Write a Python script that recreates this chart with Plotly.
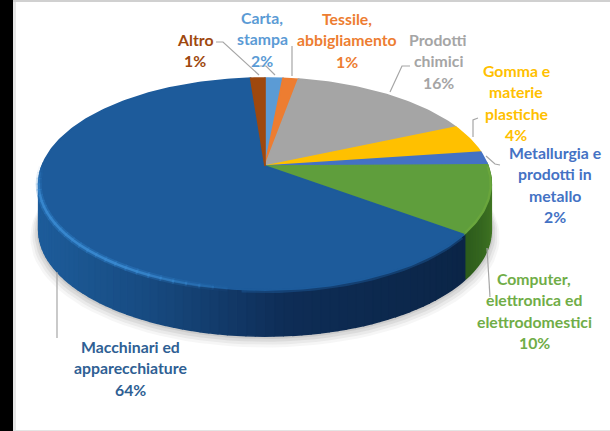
import math
import plotly.graph_objects as go

categories = ["Carta, stampa", "Tessile, abbigliamento", "Prodotti chimici", "Gomma e materie plastiche",
              "Metallurgia e prodotti in metallo", "Computer, elettronica ed elettrodomestici",
              "Macchinari ed apparecchiature", "Altro"]
values = [1.5, 1.3, 15.6, 4.4, 2.0, 10.4, 63.6, 1.2]
percent_labels = ["2%", "1%", "16%", "4%", "2%", "10%", "64%", "1%"]
label_lines = [["Carta,", "stampa"], ["Tessile,", "abbigliamento"], ["Prodotti", "chimici"],
               ["Gomma e", "materie", "plastiche"], ["Metallurgia e", "prodotti in", "metallo"],
               ["Computer,", "elettronica ed", "elettrodomestici"], ["Macchinari ed", "apparecchiature"], ["Altro"]]
colors = ["#5b9bd5", "#ed7d31", "#a5a5a5", "#ffc000", "#4472c4", "#5f9e3c", "#1d5b9b", "#9e480e"]
text_colors = ["#5b9bd5", "#ed7d31", "#a5a5a5", "#ffc000", "#4472c4", "#70ad47", "#2f5f94", "#9e480e"]
label_pos = [(262, 17), (347, 18), (438, 39), (516, 70), (555, 152), (534, 278), (130, 346), (195, 39)]
leaders = [[(260, 66), (266, 66), (275, 75)], [(292, 46), (292, 76)], [(410, 66), (402, 66), (390, 92)],
           [(478, 118), (473, 120), (473, 137)], [(486, 156), (495, 164), (500, 165)],
           [(487, 248), (490, 297)], [(57, 272), (57, 338)], [(216, 42), (223, 42), (259, 75)]]

AX, AY, RX, RY, K, DEPTH = 265, 166, 223, 103, 0.17, 46
FONT = "Lato"
LINE_H = 21.5


def proj(theta_deg, r=1.0, depth=0.0):
    t = math.radians(theta_deg)
    X, Y = r * math.sin(t), r * math.cos(t)
    w = 1 + K * Y
    return AX + RX * X / w, AY - RY * Y / w + depth


def arc(a, b, r=1.0, depth=0.0, step=1.0):
    n = max(2, int(abs(b - a) / step) + 1)
    return [proj(a + (b - a) * i / (n - 1), r, depth) for i in range(n)]


def mix(c1, c2, f):
    f = max(0.0, min(1.0, f))
    a = [int(c1[i:i + 2], 16) for i in (1, 3, 5)]
    b = [int(c2[i:i + 2], 16) for i in (1, 3, 5)]
    return "#%02x%02x%02x" % tuple(round(a[i] + (b[i] - a[i]) * f) for i in range(3))


def poly(fig, pts, color, line=None):
    fig.add_trace(go.Scatter(x=[p[0] for p in pts], y=[p[1] for p in pts], mode="lines", fill="toself",
                             fillcolor=color, line=dict(color=line or color, width=1.6 if line else 0),
                             hoverinfo="skip", showlegend=False))


def stroke(fig, pts, color, width):
    fig.add_trace(go.Scatter(x=[p[0] for p in pts], y=[p[1] for p in pts], mode="lines",
                             line=dict(color=color, width=width), hoverinfo="skip", showlegend=False))


fig = go.Figure()

# slice angles, clockwise from 12 o'clock
angles = [0.0]
for v in values:
    angles.append(angles[-1] + v / sum(values) * 360)
green_i, blue_i = 5, 6
split = angles[blue_i]

# soft shadow
for i, alpha in enumerate([0.07, 0.10, 0.13, 0.16]):
    off = 10 - i * 2.5
    pts = [(x, y + off * 0.6) for x, y in arc(70, 290, 1 + off / 280, DEPTH, 3)]
    poly(fig, pts, f"rgba(125,125,125,{alpha})")

# side wall
wall_start, wall_end = 88, 272
a = wall_start
while a < wall_end:
    b = min(a + 2.0, wall_end)
    if b <= split:
        c = mix("#4c8428", "#2b5a1b", (a - wall_start) / (split - wall_start))
    else:
        x = proj((a + b) / 2)[0]
        if x < 150:
            c = mix("#1d5c9a", "#174a80", (x - 40) / 110)
        elif x < 285:
            c = mix("#174a80", "#0e2d56", (x - 150) / 135)
        else:
            c = mix("#0e2d56", "#0b2547", (x - 285) / 178)
    poly(fig, arc(a, b, 1, 0, 1) + arc(b, a, 1, DEPTH, 1), c, c)
    a = b

# top face
for i, v in enumerate(values):
    poly(fig, [(AX, AY)] + arc(angles[i], angles[i + 1]) + [(AX, AY)], colors[i], colors[i])

# soft rim: blurred edge on the dark part, highlight on the lit part
stroke(fig, arc(split + 1, 185, 1.0, 1), "rgba(29,91,155,0.45)", 4)
a = 185
while a < 268:
    b = a + 3
    s = min(1.0, (a - 185) / 25) * min(1.0, (268 - a) / 18)
    stroke(fig, arc(a, b + 0.5, 1.0), f"rgba(47,124,196,{0.45 * s:.3f})", 6)
    stroke(fig, arc(a, b + 0.5, 1.0), f"rgba(58,138,208,{0.9 * s:.3f})", 2.5)
    a = b
stroke(fig, arc(angles[green_i] + 1, split - 1, 0.997), "#6aa63c", 2)

# leader lines
for pts in leaders:
    stroke(fig, pts, "#a6a6a6", 1.2)

# labels
for lines, pct, (cx, y0), col in zip(label_lines, percent_labels, label_pos, text_colors):
    for j, txt in enumerate(lines + [pct]):
        fig.add_annotation(x=cx, y=y0 + j * LINE_H, text=f"<b>{txt}</b>", showarrow=False,
                           xanchor="center", yanchor="middle",
                           font=dict(family=FONT, size=15.8, color=col))

fig.update_layout(
    width=610, height=431, margin=dict(l=0, r=0, t=0, b=0), paper_bgcolor="white", plot_bgcolor="white",
    xaxis=dict(range=[0, 610], visible=False, fixedrange=True),
    yaxis=dict(range=[431, 0], visible=False, fixedrange=True),
    showlegend=False,
    shapes=[
        dict(type="rect", xref="x", yref="y", x0=13, x1=16, y0=0, y1=431, fillcolor="#e6e6e6", line_width=0),
        dict(type="rect", xref="x", yref="y", x0=0, x1=13, y0=0, y1=431, fillcolor="black", line_width=0),
        dict(type="rect", xref="x", yref="y", x0=13, x1=610, y0=0, y1=2, fillcolor="#d0d0d0", line_width=0),
        dict(type="rect", xref="x", yref="y", x0=13, x1=610, y0=430, y1=431, fillcolor="#e4e4e4", line_width=0),
    ],
)
fig.write_html("out.html", config={"displayModeBar": False},
               post_script="document.body.style.margin='0';document.body.style.overflow='hidden';")
